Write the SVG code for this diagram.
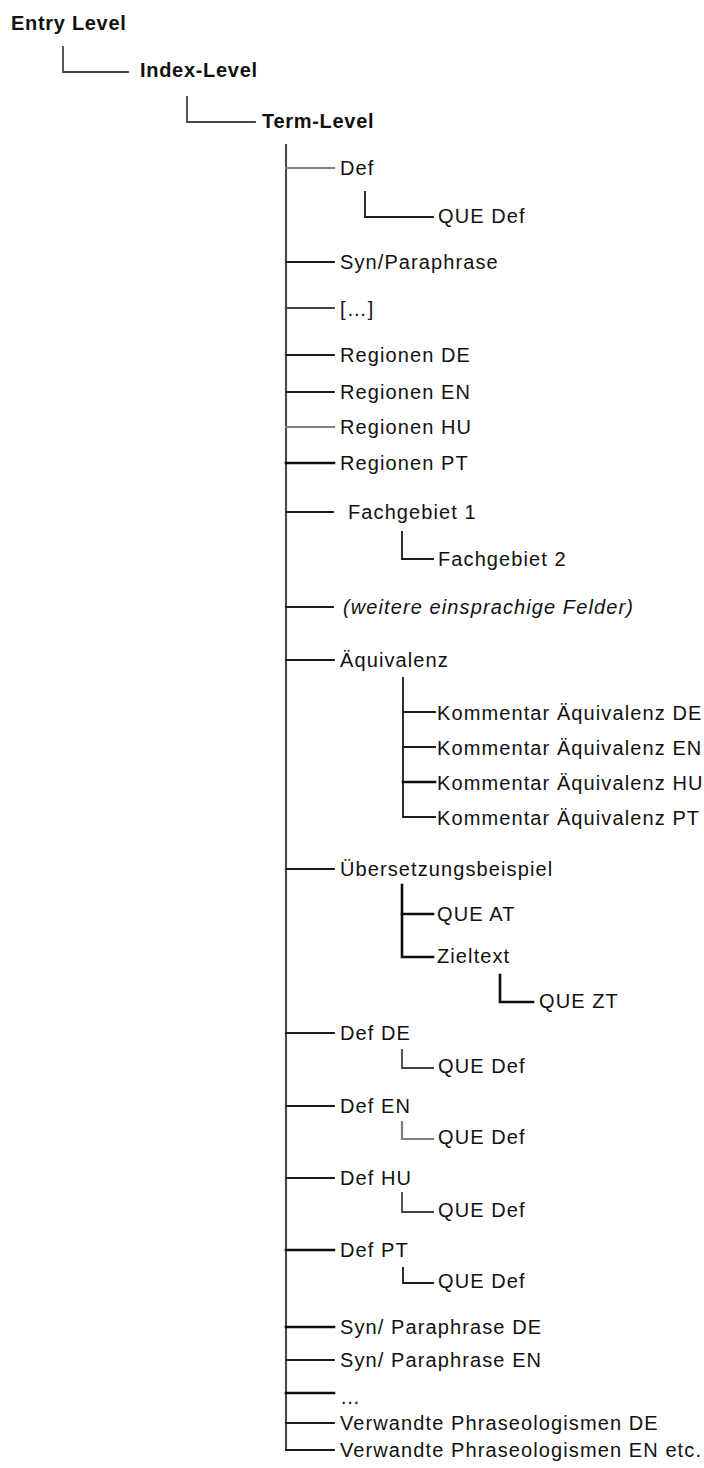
<svg xmlns="http://www.w3.org/2000/svg" width="704" height="1468" viewBox="0 0 704 1468">
  <style>
    text { font-family: "Liberation Sans", Arial, sans-serif; fill: #111; }
    .lvl { font-size: 20px; font-weight: bold; letter-spacing: 0.7px; }
    .fld { font-size: 20px; letter-spacing: 1.1px; }
    .it { font-style: italic; }
    .c { fill: none; stroke: #1a1a1a; stroke-width: 1.8; stroke-linecap: square; }
    .g { stroke: #808080; stroke-width: 2.2; }
    .m { stroke: #444; }
    .b { stroke: #0d0d0d; stroke-width: 2.6; }
  </style>
  <rect width="704" height="1468" fill="#ffffff"/>

  <!-- connectors -->
  <g id="connectors">
    <!-- level hierarchy -->
    <path class="c m" d="M63,47 V72 H128"/>
    <path class="c m" d="M187,97 V122 H255"/>
    <!-- term-level trunk -->
    <path class="c g" d="M286,145 V1450"/>
    <path class="c m" d="M286,145 V1450"/>
    <!-- term-level branches -->
    <path class="c g" d="M286,168 H334"/>
    <path class="c" d="M365,192 V217 H433"/>
    <path class="c" d="M286,262 H334"/>
    <path class="c m" d="M286,308 H334"/>
    <path class="c" d="M286,355 H334"/>
    <path class="c" d="M286,392 H334"/>
    <path class="c g" d="M286,427 H334"/>
    <path class="c b" d="M286,463 H334"/>
    <path class="c" d="M286,512 H333"/>
    <path class="c" d="M402,532 V559 H433"/>
    <path class="c" d="M286,607 H333"/>
    <path class="c" d="M286,660 H334"/>
    <!-- Äquivalenz comments -->
    <path class="c" d="M403,678 V817 H435"/>
    <path class="c" d="M403,712 H435"/>
    <path class="c" d="M403,747 H435"/>
    <path class="c b" d="M403,782 H435"/>
    <!-- Übersetzungsbeispiel -->
    <path class="c" d="M286,869 H334"/>
    <path class="c b" d="M402,885 V957 H433"/>
    <path class="c b" d="M402,914 H433"/>
    <path class="c b" d="M500,975 V1002 H533"/>
    <!-- language definitions -->
    <path class="c" d="M286,1033 H334"/>
    <path class="c m" d="M402,1050 V1068 H433"/>
    <path class="c" d="M286,1106 H334"/>
    <path class="c g" d="M402,1122 V1139 H433"/>
    <path class="c" d="M286,1178 H334"/>
    <path class="c m" d="M402,1193 V1212 H433"/>
    <path class="c b" d="M286,1250 H334"/>
    <path class="c" d="M403,1268 V1283 H433"/>
    <!-- bottom fields -->
    <path class="c b" d="M286,1327 H334"/>
    <path class="c" d="M286,1360 H334"/>
    <path class="c b" d="M286,1393 H334"/>
    <path class="c" d="M286,1423 H334"/>
    <path class="c" d="M286,1450 H334"/>
  </g>

  <!-- levels -->
  <g id="entry-level"><text class="lvl" x="11" y="30">Entry Level</text></g>
  <g id="index-level"><text class="lvl" x="140" y="77">Index-Level</text></g>
  <g id="term-level"><text class="lvl" x="262" y="128">Term-Level</text></g>

  <!-- term-level fields -->
  <g id="def"><text class="fld" x="340" y="175">Def</text></g>
  <g id="que-def"><text class="fld" x="438" y="223">QUE Def</text></g>
  <g id="syn"><text class="fld" x="340" y="269">Syn/Paraphrase</text></g>
  <g id="etc1"><text class="fld" x="340" y="316">[…]</text></g>
  <g id="reg-de"><text class="fld" x="340" y="362">Regionen DE</text></g>
  <g id="reg-en"><text class="fld" x="340" y="399">Regionen EN</text></g>
  <g id="reg-hu"><text class="fld" x="340" y="434">Regionen HU</text></g>
  <g id="reg-pt"><text class="fld" x="340" y="470">Regionen PT</text></g>
  <g id="fach1"><text class="fld" x="348" y="519">Fachgebiet 1</text></g>
  <g id="fach2"><text class="fld" x="438" y="566">Fachgebiet 2</text></g>
  <g id="weitere"><text class="fld it" x="343" y="614">(weitere einsprachige Felder)</text></g>
  <g id="aequivalenz"><text class="fld" x="340" y="667">Äquivalenz</text></g>
  <g id="komm-de"><text class="fld" x="437" y="720">Kommentar Äquivalenz DE</text></g>
  <g id="komm-en"><text class="fld" x="437" y="755">Kommentar Äquivalenz EN</text></g>
  <g id="komm-hu"><text class="fld" x="437" y="790">Kommentar Äquivalenz HU</text></g>
  <g id="komm-pt"><text class="fld" x="437" y="825">Kommentar Äquivalenz PT</text></g>
  <g id="uebersetzung"><text class="fld" x="340" y="876">Übersetzungsbeispiel</text></g>
  <g id="que-at"><text class="fld" x="437" y="921">QUE AT</text></g>
  <g id="zieltext"><text class="fld" x="437" y="963">Zieltext</text></g>
  <g id="que-zt"><text class="fld" x="539" y="1008">QUE ZT</text></g>
  <g id="def-de"><text class="fld" x="340" y="1040">Def DE</text></g>
  <g id="que-def-de"><text class="fld" x="438" y="1073">QUE Def</text></g>
  <g id="def-en"><text class="fld" x="340" y="1113">Def EN</text></g>
  <g id="que-def-en"><text class="fld" x="438" y="1144">QUE Def</text></g>
  <g id="def-hu"><text class="fld" x="340" y="1185">Def HU</text></g>
  <g id="que-def-hu"><text class="fld" x="438" y="1217">QUE Def</text></g>
  <g id="def-pt"><text class="fld" x="340" y="1257">Def PT</text></g>
  <g id="que-def-pt"><text class="fld" x="438" y="1288">QUE Def</text></g>
  <g id="syn-de"><text class="fld" x="340" y="1334">Syn/ Paraphrase DE</text></g>
  <g id="syn-en"><text class="fld" x="340" y="1367">Syn/ Paraphrase EN</text></g>
  <g id="etc2"><text class="fld" x="340" y="1404">…</text></g>
  <g id="phras-de"><text class="fld" x="340" y="1430">Verwandte Phraseologismen DE</text></g>
  <g id="phras-en"><text class="fld" x="340" y="1457">Verwandte Phraseologismen EN etc.</text></g>
</svg>
